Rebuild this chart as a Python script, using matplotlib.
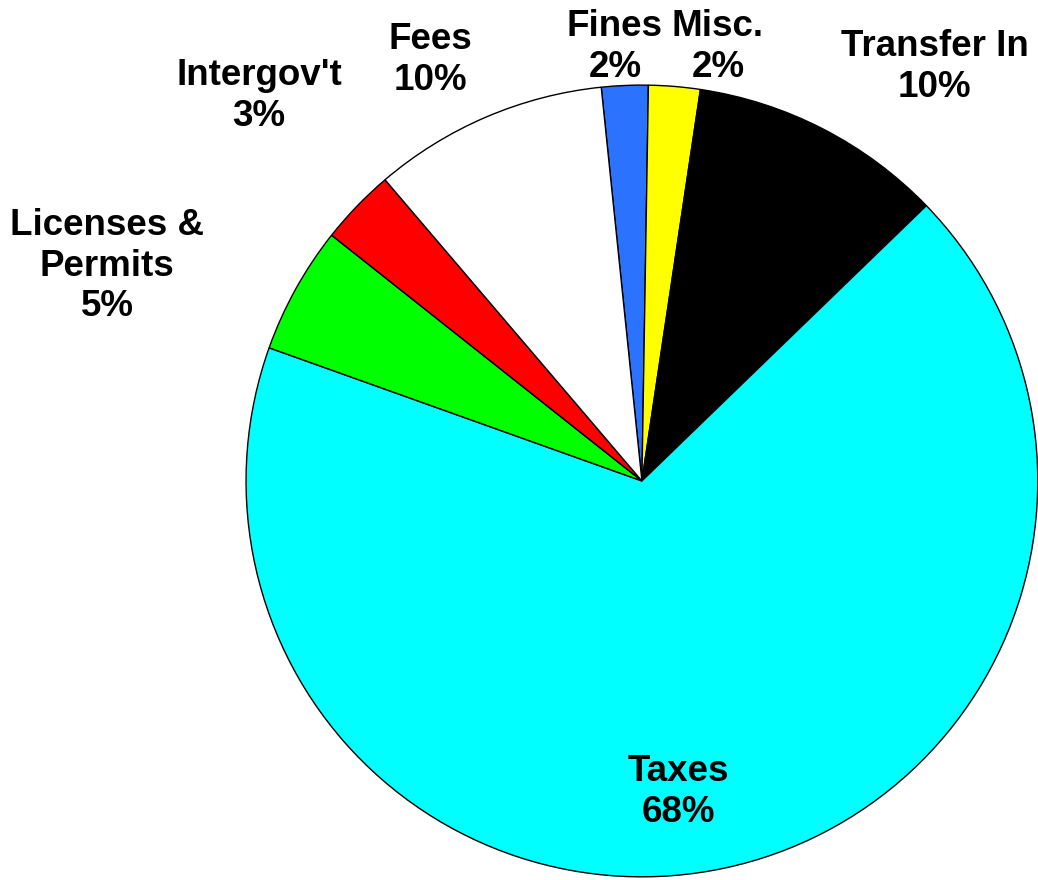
import matplotlib.pyplot as plt

# revenue shares (percent), clockwise from the top
categories = ["Fines", "Misc.", "Transfer In", "Taxes", "Licenses &\nPermits", "Intergov't", "Fees"]
shares = [1.9, 2.1, 10.4, 67.7, 5.2, 3.1, 9.6]
pct_labels = ["2%", "2%", "10%", "68%", "5%", "3%", "10%"]
colors = ["#2B72FF", "#FFFF00", "#000000", "#00FFFF", "#00FF00", "#FF0000", "#FFFFFF"]

# label centres in pie-radius units
label_pos = [(-0.068, 1.096), (0.192, 1.096), (0.740, 1.045), (0.091, -0.785),
             (-1.351, 0.543), (-0.967, 0.972), (-0.535, 1.063)]

plt.rcParams['font.family'] = ['Liberation Sans', 'DejaVu Sans']

fig = plt.figure(figsize=(10.38, 8.8), dpi=100)
ax = fig.add_axes([0, 0, 1, 1])

ax.pie(shares, colors=colors, startangle=95.9, counterclock=False,
       radius=1.0, center=(0, 0),
       wedgeprops=dict(edgecolor='black', linewidth=1.0))

for name, pct, (x, y) in zip(categories, pct_labels, label_pos):
    ax.text(x, y, f"{name}\n{pct}", ha='center', va='center',
            fontsize=26.5, fontweight='bold', linespacing=1.22, color='black')

ax.set_xlim(-1.621, 1.0)
ax.set_ylim(-1.008, 1.215)
ax.set_aspect('equal')
ax.axis('off')

fig.savefig("out.png", dpi=100)
